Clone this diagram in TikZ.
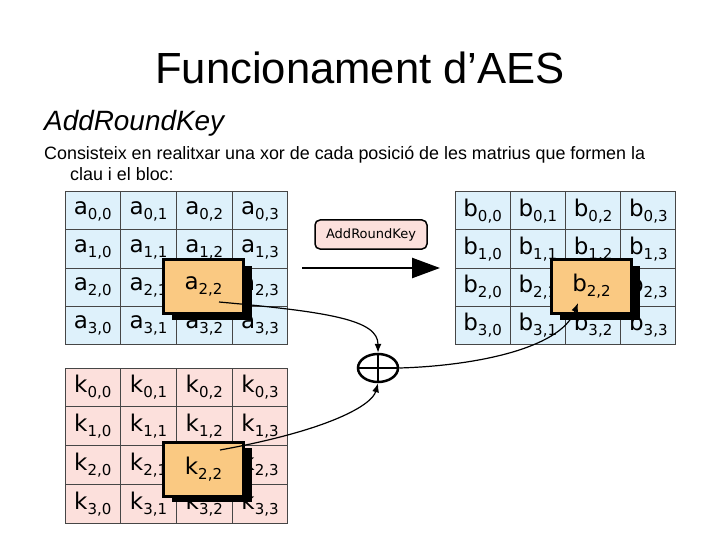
\documentclass[tikz,border=0pt]{standalone}
\usepackage{fontspec}
\setmainfont{Liberation Sans}
\newfontfamily\cellfont{DejaVu Sans}
\usetikzlibrary{arrows.meta,shapes.geometric,shadows,positioning}

\definecolor{stateblue}{RGB}{222,241,251}
\definecolor{keypink}{RGB}{252,224,220}
\definecolor{hlorange}{RGB}{250,201,130}
\definecolor{gridgray}{RGB}{70,70,70}

% matrix entry: letter with a lowered index
\newcommand{\ent}[2]{{\fontsize{23}{23}\selectfont #1}\raisebox{-5pt}{\fontsize{15}{15}\selectfont #2}}

\tikzset{
  cellbox/.style={draw=gridgray, line width=1pt, minimum width=55.5pt, minimum height=38pt, inner sep=0pt, font=\cellfont},
  hlbox/.style={draw=black, line width=3pt, fill=hlorange, minimum width=80pt, minimum height=54pt, inner sep=0pt,
    general shadow={fill=black, shadow xshift=8pt, shadow yshift=-6pt}, font=\cellfont},
  flow/.style={line width=1.2pt, -{Latex[length=9pt,width=7pt]}},
}

\begin{document}
\begin{tikzpicture}[x=1pt, y=-1pt]
  \useasboundingbox[fill=white] (0,0) rectangle (720,540);

  % Titles and text
  \node[font=\fontsize{43.6}{44}\selectfont, anchor=base] (title) at (360,84) {Funcionament d’AES};
  \node[font=\fontsize{27.9}{28}\selectfont\itshape, anchor=base west, inner sep=0pt] (head) at (44,131) {AddRoundKey};
  \node[font=\fontsize{17.9}{18}\selectfont, anchor=base west, inner sep=0pt] (line1) at (44,160)
    {Consisteix en realitxar una xor de cada posició de les matrius que formen la};
  \node[font=\fontsize{17.9}{18}\selectfont, anchor=base west, inner sep=0pt] (line2) at (70,181) {clau i el bloc:};

  % State, result and key matrices
  \foreach \r in {0,...,3}{
    \foreach \c in {0,...,3}{
      \node[cellbox, fill=stateblue] (a\r\c) at (92.8+55.75*\c, 211+38*\r) {\ent{a}{\r,\c}};
      \node[cellbox, fill=stateblue, minimum width=55pt] (b\r\c) at (482.6+55.25*\c, 211+38*\r) {\ent{b}{\r,\c}};
      \node[cellbox, fill=keypink, minimum height=38.75pt] (k\r\c) at (92.8+55.75*\c, 387.4+38.75*\r) {\ent{k}{\r,\c}};
    }
  }

  % Highlighted entries
  \node[hlbox] (ahl) at (203.5,286.5) {\ent{a}{2,2}};
  \node[hlbox] (bhl) at (591.5,286.5) {\ent{b}{2,2}};
  \node[hlbox] (khl) at (203.5,469) {\ent{k}{2,2}};

  % Operation label and main arrow
  \node[draw=black, line width=1.5pt, fill=keypink, rounded corners=5pt, minimum width=112pt, minimum height=29pt,
    inner sep=0pt, font=\cellfont\fontsize{13}{13}\selectfont] (ark) at (371,234.5) {AddRoundKey};
  \coordinate (arrL) at (302,268);
  \coordinate (arrR) at (440,268);
  \draw[line width=2.5pt, -{Triangle[length=28pt,width=20pt]}] (arrL) -- (arrR);

  % XOR of the two entries
  \node[draw, ellipse, line width=2.5pt, minimum width=40pt, minimum height=28pt, inner sep=0pt] (xor) at (378,368) {};
  \draw[line width=2.5pt] (xor.north) -- (xor.south);
  \draw[line width=2.5pt] (xor.west) -- (xor.east);

  \coordinate (asrc) at (219,302);
  \coordinate (ksrc) at (220,450);
  \coordinate (bdst) at (578,303);
  \draw[flow] (asrc) .. controls (330,312) and (378,320) .. (xor.north);
  \draw[flow] (ksrc) .. controls (330,430) and (372,405) .. (xor.south);
  \draw[flow] (xor.east) .. controls (470,366) and (560,350) .. (bdst);
\end{tikzpicture}
\end{document}
